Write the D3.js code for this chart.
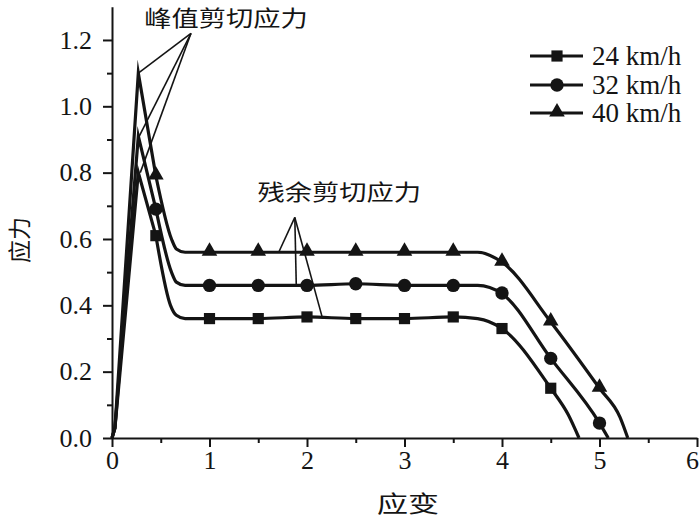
<!DOCTYPE html>
<html><head><meta charset="utf-8">
<script src="https://cdn.jsdelivr.net/npm/d3@7"></script>
<style>body{margin:0;background:#fff}</style>
</head><body><svg id="c" width="700" height="518"></svg>
<script>
// ---------- data ----------
const seriesNames = ["24 km/h", "32 km/h", "40 km/h"];
const seriesSymbols = ["square", "circle", "triangle"];

const strain24 = [0, 0.03, 0.27, 0.45, 0.60, 0.66, 0.75, 1.0, 1.5, 2.0, 2.5, 3.0, 3.5, 3.75, 4.0, 4.5, 4.68, 4.79];
const stress24 = [0, 0.03, 0.80, 0.61, 0.40, 0.37, 0.36, 0.36, 0.36, 0.365, 0.36, 0.36, 0.365, 0.36, 0.33, 0.15, 0.07, 0];

const strain32 = [0, 0.03, 0.27, 0.45, 0.61, 0.66, 0.75, 1.0, 1.5, 2.0, 2.5, 3.0, 3.5, 3.75, 4.0, 4.5, 5.0, 5.09];
const stress32 = [0, 0.03, 0.91, 0.69, 0.50, 0.47, 0.46, 0.46, 0.46, 0.46, 0.465, 0.46, 0.46, 0.46, 0.435, 0.24, 0.045, 0];

const strain40 = [0, 0.03, 0.27, 0.45, 0.61, 0.66, 0.75, 1.0, 1.5, 2.0, 2.5, 3.0, 3.5, 3.75, 4.0, 4.5, 5.0, 5.21, 5.29];
const stress40 = [0, 0.03, 1.10, 0.79, 0.60, 0.57, 0.56, 0.56, 0.56, 0.56, 0.56, 0.56, 0.56, 0.56, 0.53, 0.35, 0.15, 0.063, 0];

const markerStrain24 = [0.45, 1, 1.5, 2, 2.5, 3, 3.5, 4, 4.5];
const markerStress24 = [0.61, 0.36, 0.36, 0.365, 0.36, 0.36, 0.365, 0.33, 0.15];
const markerStrain32 = [0.45, 1, 1.5, 2, 2.5, 3, 3.5, 4, 4.5, 5];
const markerStress32 = [0.69, 0.46, 0.46, 0.46, 0.465, 0.46, 0.46, 0.437, 0.24, 0.045];
const markerStrain40 = [0.45, 1, 1.5, 2, 2.5, 3, 3.5, 4, 4.5, 5];
const markerStress40 = [0.79, 0.56, 0.56, 0.56, 0.56, 0.56, 0.56, 0.53, 0.35, 0.15];

const xTicks = [0, 1, 2, 3, 4, 5, 6];
const xMinorTicks = [0.5, 1.5, 2.5, 3.5, 4.5, 5.5];
const yTicks = [0, 0.2, 0.4, 0.6, 0.8, 1.0, 1.2];
const yMinorTicks = [0.1, 0.3, 0.5, 0.7, 0.9, 1.1];

const xTitle = "应变";
const yTitle = "应力";
const peakLabel = "峰值剪切应力";
const residualLabel = "残余剪切应力";
// annotation leader lines (data units)
const peakApex = [0.81, 1.22];
const peakTargets = [[0.27, 1.10], [0.28, 0.91], [0.29, 0.80]];
const residualApex = [1.875, 0.665];
const residualTargets = [[1.71, 0.56], [1.89, 0.46], [2.16, 0.36]];

// ---------- chart ----------
const svg = d3.select("#c");
const ink = "#141414";
const x = d3.scaleLinear().domain([0, 6]).range([112, 697]);
const y = d3.scaleLinear().domain([0, 1.3]).range([438, 6.8]);

const serif = "'Liberation Serif','Times New Roman',serif";
const cjk = "'Noto Sans CJK SC','Noto Sans CJK JP',sans-serif";

// axes
function styleAxis(g) {
  g.select(".domain").attr("stroke", ink).attr("stroke-width", 2);
  g.selectAll(".tick line").attr("stroke", ink).attr("stroke-width", 2);
  g.selectAll(".tick text").attr("fill", ink).attr("font-family", serif).attr("font-size", 26);
}
const gx = svg.append("g").attr("transform", `translate(0,${y(0)})`)
  .call(d3.axisBottom(x).tickValues(xTicks).tickFormat(d3.format("d")).tickSize(9).tickSizeOuter(0).tickPadding(4));
styleAxis(gx);
gx.selectAll(".tick text").filter(d => d === 6).attr("dx", -5);
const gxm = svg.append("g").attr("transform", `translate(0,${y(0)})`)
  .call(d3.axisBottom(x).tickValues(xMinorTicks).tickFormat("").tickSize(5).tickSizeOuter(0));
styleAxis(gxm); gxm.select(".domain").remove();

const gy = svg.append("g").attr("transform", `translate(${x(0)},0)`)
  .call(d3.axisLeft(y).tickValues(yTicks).tickFormat(d3.format(".1f")).tickSize(9).tickSizeOuter(0).tickPadding(11));
styleAxis(gy);
const gym = svg.append("g").attr("transform", `translate(${x(0)},0)`)
  .call(d3.axisLeft(y).tickValues(yMinorTicks).tickFormat("").tickSize(5).tickSizeOuter(0));
styleAxis(gym); gym.select(".domain").remove();

// axis titles
svg.append("text").attr("transform", `translate(408,512) scale(1.35,1)`)
  .attr("text-anchor", "middle").attr("font-family", cjk).attr("font-size", 23).attr("fill", ink).text(xTitle);
svg.append("text").attr("transform", `translate(28,240) rotate(-90)`)
  .attr("text-anchor", "middle").attr("font-family", cjk).attr("font-size", 23).attr("fill", ink).text(yTitle);

// lines
const series = [
  {name: seriesNames[0], sym: seriesSymbols[0], xs: strain24, ys: stress24, mx: markerStrain24, my: markerStress24},
  {name: seriesNames[1], sym: seriesSymbols[1], xs: strain32, ys: stress32, mx: markerStrain32, my: markerStress32},
  {name: seriesNames[2], sym: seriesSymbols[2], xs: strain40, ys: stress40, mx: markerStrain40, my: markerStress40},
];
const symType = {square: d3.symbolSquare, circle: d3.symbolCircle, triangle: d3.symbolTriangle};
const symSize = {square: 125, circle: 140, triangle: 105};

const lineLin = d3.line().x(d => x(d[0])).y(d => y(d[1])).curve(d3.curveLinear);
const lineSmooth = d3.line().x(d => x(d[0])).y(d => y(d[1])).curve(d3.curveMonotoneX);

// annotation leaders (under curves)
const lead = svg.append("g").attr("stroke", ink).attr("stroke-width", 1.6).attr("fill", "none");
peakTargets.forEach(t => lead.append("line")
  .attr("x1", x(peakApex[0])).attr("y1", y(peakApex[1])).attr("x2", x(t[0])).attr("y2", y(t[1])));
residualTargets.forEach(t => lead.append("line")
  .attr("x1", x(residualApex[0])).attr("y1", y(residualApex[1])).attr("x2", x(t[0])).attr("y2", y(t[1])));

series.forEach(s => {
  const pts = s.xs.map((v, i) => [v, s.ys[i]]);
  const rise = pts.filter(p => p[0] <= 0.45);
  const rest = pts.filter(p => p[0] >= 0.45);
  const g = svg.append("g");
  g.append("path").attr("d", lineLin(rise)).attr("fill", "none").attr("stroke", ink)
    .attr("stroke-width", 3.2).attr("stroke-linejoin", "miter").attr("stroke-miterlimit", 10);
  g.append("path").attr("d", lineSmooth(rest)).attr("fill", "none").attr("stroke", ink)
    .attr("stroke-width", 3.2).attr("stroke-linejoin", "round");
  const sym = d3.symbol().type(symType[s.sym]).size(symSize[s.sym]);
  g.selectAll("path.m").data(s.mx.map((v, i) => [v, s.my[i]])).join("path").attr("class", "m")
    .attr("d", sym).attr("fill", ink)
    .attr("transform", d => `translate(${x(d[0])},${y(d[1]) + (s.sym === "triangle" ? -1 : 0)})`);
});

// annotation labels
svg.append("text").attr("transform", `translate(${x(1.17)},${y(1.272) + 10}) scale(1.24,1)`)
  .attr("text-anchor", "middle").attr("font-family", cjk).attr("font-size", 22).attr("fill", ink).text(peakLabel);
svg.append("text").attr("transform", `translate(${x(2.33)},${y(0.742) + 8}) scale(1.24,1)`)
  .attr("text-anchor", "middle").attr("font-family", cjk).attr("font-size", 22).attr("fill", ink).text(residualLabel);

// legend
const legRows = [56, 85, 113];
series.forEach((s, i) => {
  const g = svg.append("g").attr("transform", `translate(0,${legRows[i]})`);
  g.append("line").attr("x1", 530).attr("x2", 583).attr("y1", 0).attr("y2", 0).attr("stroke", ink).attr("stroke-width", 3);
  g.append("path").attr("d", d3.symbol().type(symType[s.sym]).size(symSize[s.sym])).attr("fill", ink)
    .attr("transform", `translate(557,${s.sym === "triangle" ? -1 : 0})`);
  g.append("text").attr("x", 592).attr("y", 9).attr("font-family", serif).attr("font-size", 27)
    .attr("fill", ink).text(s.name);
});
</script></body></html>
